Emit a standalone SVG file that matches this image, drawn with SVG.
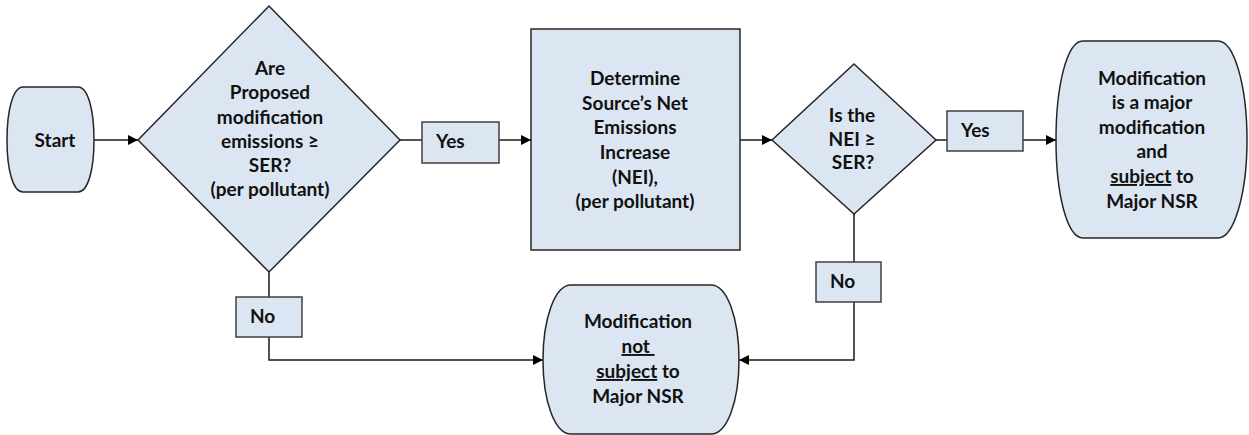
<svg xmlns="http://www.w3.org/2000/svg" width="1249" height="435" viewBox="0 0 1249 435">
<defs>
<style>
.shape{fill:#dce6f2;stroke:#262626;stroke-width:1.5}
.lbl{fill:#dce6f2;stroke:#404040;stroke-width:1.5}
.t{font-family:Lato,"Liberation Sans",sans-serif;font-weight:bold;font-size:19px;fill:#111;text-anchor:middle}
.ts{font-family:Lato,"Liberation Sans",sans-serif;font-weight:bold;font-size:19px;fill:#111}
.c{fill:none;stroke:#1a1a1a;stroke-width:1.5}
.u{text-decoration:underline}
</style>
<marker id="arr" viewBox="0 0 10 10" refX="10" refY="5" markerWidth="10" markerHeight="10" markerUnits="userSpaceOnUse" orient="auto">
<path d="M0,0 L10,5 L0,10 Z" fill="#000"/>
</marker>
</defs>
<rect width="1249" height="435" fill="#fff"/>
<g id="connectors">
<line class="c" x1="94" y1="140" x2="138" y2="140" marker-end="url(#arr)"/>
<line class="c" x1="400" y1="140" x2="422" y2="140"/>
<line class="c" x1="499" y1="140" x2="531" y2="140" marker-end="url(#arr)"/>
<line class="c" x1="740" y1="140" x2="772" y2="140" marker-end="url(#arr)"/>
<line class="c" x1="936" y1="140" x2="947" y2="140"/>
<line class="c" x1="1023" y1="140" x2="1056" y2="140" marker-end="url(#arr)"/>
<line class="c" x1="269" y1="272" x2="269" y2="297"/>
<polyline class="c" points="269,337 269,360 543,360" marker-end="url(#arr)"/>
<line class="c" x1="854" y1="214" x2="854" y2="262"/>
<polyline class="c" points="854,302 854,360 739,360" marker-end="url(#arr)"/>
</g>
<g id="start">
<path class="shape" d="M23,87 H78 C88,87 94,110 94,140 C94,170 88,192 78,192 H23 C13,192 7,170 7,140 C7,110 13,87 23,87 Z"/>
<text class="t" x="55" y="147">Start</text>
</g>
<g id="decision1">
<polygon class="shape" points="269,6 400,140 269,272 138,140"/>
<text class="t" x="270" y="75">Are</text>
<text class="t" x="270" y="99">Proposed</text>
<text class="t" x="270" y="123.5">modification</text>
<text class="t" x="270" y="148">emissions ≥</text>
<text class="t" x="270" y="172">SER?</text>
<text class="t" x="270" y="196">(per pollutant)</text>
</g>
<g id="yes1">
<rect class="lbl" x="422" y="122" width="77" height="41"/>
<text class="ts" x="436" y="148">Yes</text>
</g>
<g id="determine">
<rect class="shape" x="531" y="29" width="209" height="221"/>
<text class="t" x="635" y="85">Determine</text>
<text class="t" x="635" y="110">Source’s Net</text>
<text class="t" x="635" y="134">Emissions</text>
<text class="t" x="635" y="159">Increase</text>
<text class="t" x="635" y="184">(NEI),</text>
<text class="t" x="635" y="208">(per pollutant)</text>
</g>
<g id="decision2">
<polygon class="shape" points="854,64 936,140 854,214 772,140"/>
<text class="t" x="852" y="122">Is the</text>
<text class="t" x="852" y="146">NEI ≥</text>
<text class="t" x="853" y="169">SER?</text>
</g>
<g id="yes2">
<rect class="lbl" x="947" y="111" width="76" height="40"/>
<text class="ts" x="961" y="137">Yes</text>
</g>
<g id="major">
<path class="shape" d="M1083,41 H1218 C1234,41 1247,85 1247,140 C1247,194 1234,238 1218,238 H1083 C1067,238 1056,194 1056,140 C1056,85 1067,41 1083,41 Z"/>
<text class="t" x="1152" y="85">Modification</text>
<text class="t" x="1152" y="109">is a major</text>
<text class="t" x="1152" y="134">modification</text>
<text class="t" x="1152" y="158">and</text>
<text class="t" x="1152" y="183"><tspan class="u">subject</tspan> to</text>
<text class="t" x="1152" y="208">Major NSR</text>
</g>
<g id="no1">
<rect class="lbl" x="236" y="297" width="66" height="40"/>
<text class="ts" x="250" y="323">No</text>
</g>
<g id="no2">
<rect class="lbl" x="816" y="262" width="65" height="40"/>
<text class="ts" x="830" y="288">No</text>
</g>
<g id="notmajor">
<path class="shape" d="M571,285 H711 C727,285 739,318 739,360 C739,402 727,434 711,434 H571 C555,434 543,402 543,360 C543,318 555,285 571,285 Z"/>
<text class="t" x="638" y="328">Modification</text>
<text class="t" x="638" y="353"><tspan class="u" xml:space="preserve">not </tspan></text>
<text class="t" x="638" y="378"><tspan class="u">subject</tspan> to</text>
<text class="t" x="638" y="403">Major NSR</text>
</g>
</svg>
